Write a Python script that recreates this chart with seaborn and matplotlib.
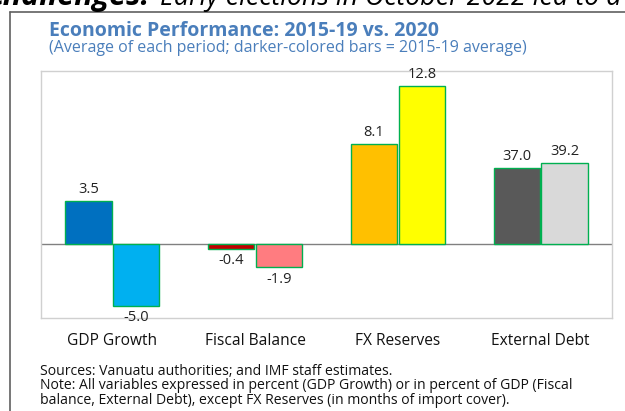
import numpy as np
import pandas as pd
import matplotlib
matplotlib.use("Agg")
import matplotlib.pyplot as plt
from matplotlib.lines import Line2D
import seaborn as sns

# ==============================
# Data
# ==============================

categories = ["GDP Growth", "Fiscal Balance", "FX Reserves", "External Debt"]
periods = ["2015-19", "2020"]
avg_2015_19 = [3.5, -0.4, 8.1, 37.0]
avg_2020 = [-5.0, -1.9, 12.8, 39.2]
# external debt is drawn on a compressed scale (hidden secondary axis)
plot_scale = [1, 1, 1, 6]

dark_colors = ["#0070C0", "#C00000", "#FFC000", "#595959"]
light_colors = ["#00B0F0", "#FF7C80", "#FFFF00", "#D9D9D9"]

df = pd.DataFrame({
    "category": categories * 2,
    "period": [periods[0]] * 4 + [periods[1]] * 4,
    "value": avg_2015_19 + avg_2020,
    "scale": plot_scale * 2,
})
df["plot_value"] = df["value"] / df["scale"]

# ==============================
# Figure
# ==============================

sns.set_style("white")
plt.rcParams["font.family"] = ["Open Sans", "DejaVu Sans"]

W = 625.0
H = 411.0

fig = plt.figure(figsize=(6.25, 4.11), dpi=100)
ax = fig.add_axes([41 / W, 1 - 318 / H, 571 / W, 247 / H])

sns.barplot(
    data=df, x="category", y="plot_value", hue="period",
    order=categories, hue_order=periods,
    width=0.67, gap=0.03, legend=False, ax=ax,
)

for container, colors, vals in zip(ax.containers,
                                   [dark_colors, light_colors],
                                   [avg_2015_19, avg_2020]):
    for bar, c in zip(container, colors):
        bar.set_facecolor(c)
        bar.set_edgecolor("#00B050")
        bar.set_linewidth(1.0)
    ax.bar_label(container, labels=[f"{v:.1f}" for v in vals],
                 padding=3, fontsize=10.5, color="#222222")

ax.set_ylim(-6, 14)
ax.set_xlim(-0.5, 3.5)
ax.axhline(0, color="#808080", lw=1.0, zorder=0.5)
ax.set_yticks([])
ax.set_xticks([])
ax.set_xlabel("")
ax.set_ylabel("")
for s in ax.spines.values():
    s.set_color("#D0D0D0")
    s.set_linewidth(1.0)

# category labels below the box
for i, cat in enumerate(categories):
    ax.text(i, -0.095, cat, transform=ax.get_xaxis_transform(),
            ha="center", va="center", fontsize=11.2, color="#111111")

# ==============================
# Titles, notes, frame
# ==============================

fig.text(49 / W, 1 - 31 / H, "Economic Performance: 2015-19 vs. 2020",
         fontsize=14, fontweight="bold", color="#4A7EBB", va="center")
fig.text(49 / W, 1 - 48 / H,
         "(Average of each period; darker-colored bars = 2015-19 average)",
         fontsize=11.5, color="#4A7EBB", va="center")

fig.text(40 / W, 1 - 371 / H, "Sources: Vanuatu authorities; and IMF staff estimates.",
         fontsize=10.1, color="#111111", va="center")
fig.text(40 / W, 1 - 385.5 / H,
         "Note: All variables expressed in percent (GDP Growth) or in percent of GDP (Fiscal",
         fontsize=10.1, color="#111111", va="center")
fig.text(40 / W, 1 - 400 / H,
         "balance, External Debt), except FX Reserves (in months of import cover).",
         fontsize=10.1, color="#111111", va="center")

# clipped text from the page above the chart
fig.text(150 / W, 1 - 5.5 / H, "challenges:", fontsize=22, fontweight="bold",
         fontstyle="italic", color="black", va="baseline", ha="right")
fig.text(160 / W, 1 - 5.5 / H, "Early elections in October 2022 led to a",
         fontsize=19.3, fontstyle="italic", color="black", va="baseline")

# outer frame
fig.add_artist(Line2D([10 / W, 10 / W], [0, 1 - 12 / H],
                      transform=fig.transFigure, color="#606060", lw=1.2))
fig.add_artist(Line2D([10 / W, 1], [1 - 12 / H, 1 - 12 / H],
                      transform=fig.transFigure, color="#606060", lw=1.2))

fig.savefig("out.png", dpi=100)
plt.close(fig)
